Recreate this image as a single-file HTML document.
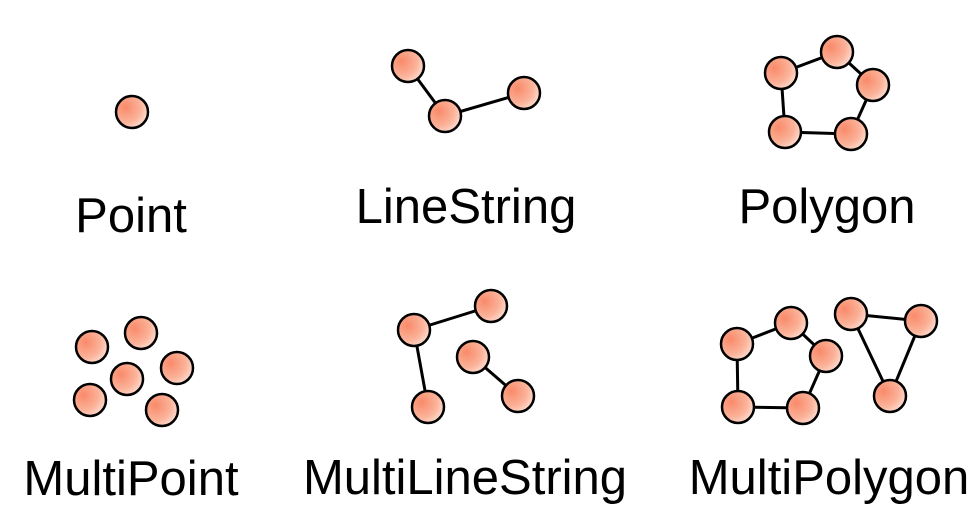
<!DOCTYPE html>
<html><head><style>html,body{margin:0;padding:0;background:#fff}svg{display:block}</style></head>
<body>
<svg width="975" height="517" viewBox="0 0 975 517" xmlns="http://www.w3.org/2000/svg">
<defs>
<radialGradient id="g" cx="0.3" cy="0.35" r="0.8">
<stop offset="0" stop-color="#f98a6a"/><stop offset="0.6" stop-color="#fbb39a"/><stop offset="1" stop-color="#fde6dc"/>
</radialGradient>
</defs>
<g stroke="#000" stroke-width="3" fill="none">
<polyline points="408,66 445,116 524,93"/>
<polygon points="837,52 873,85 851,134 785,132 781,73"/>
<polyline points="491,306 414,330 428,407"/>
<line x1="473" y1="357" x2="518" y2="396"/>
<polygon points="737,344 791,323 826,356 803,408 738,407"/>
<polygon points="851,314 921,321 890,396"/>
</g>
<g stroke="#000" stroke-width="2.5" fill="url(#g)">
<circle cx="132" cy="112" r="16"/>
<circle cx="408" cy="66" r="16"/><circle cx="445" cy="116" r="16"/><circle cx="524" cy="93" r="16"/>
<circle cx="837" cy="52" r="16"/><circle cx="873" cy="85" r="16"/><circle cx="851" cy="134" r="16"/><circle cx="785" cy="132" r="16"/><circle cx="781" cy="73" r="16"/>
<circle cx="92" cy="347" r="16"/><circle cx="141" cy="333" r="16"/><circle cx="177" cy="368" r="16"/><circle cx="127" cy="379" r="16"/><circle cx="90" cy="400" r="16"/><circle cx="162" cy="410" r="16"/>
<circle cx="414" cy="330" r="16"/><circle cx="491" cy="306" r="16"/><circle cx="428" cy="407" r="16"/><circle cx="473" cy="357" r="16"/><circle cx="518" cy="396" r="16"/>
<circle cx="737" cy="344" r="16"/><circle cx="791" cy="323" r="16"/><circle cx="826" cy="356" r="16"/><circle cx="803" cy="408" r="16"/><circle cx="738" cy="407" r="16"/>
<circle cx="851" cy="314" r="16"/><circle cx="921" cy="321" r="16"/><circle cx="890" cy="396" r="16"/>
</g>
<g font-family="Liberation Sans, sans-serif" font-size="49" fill="#000" text-anchor="middle">
<text x="131" y="232">Point</text>
<text x="466" y="223">LineString</text>
<text x="827" y="223">Polygon</text>
<text x="131" y="495">MultiPoint</text>
<text x="465" y="494">MultiLineString</text>
<text x="829" y="494">MultiPolygon</text>
</g>
</svg>
</body></html>
